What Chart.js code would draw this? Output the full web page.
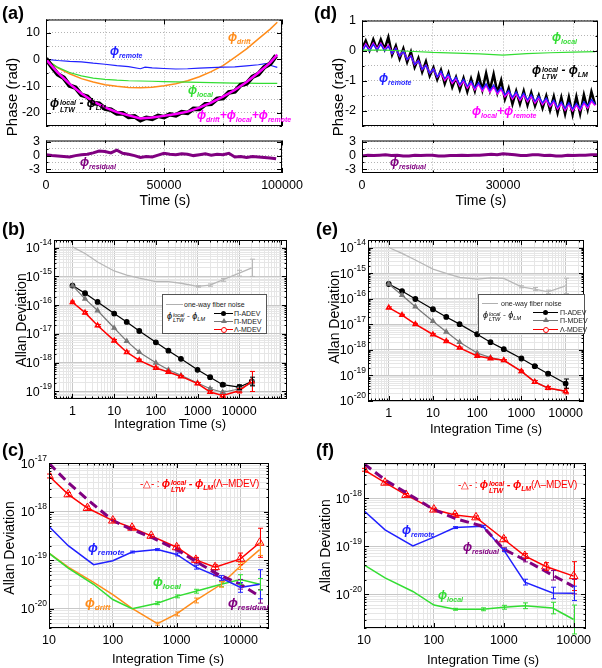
<!DOCTYPE html>
<html>
<head>
<meta charset="utf-8">
<title>Phase residuals and Allan deviation</title>
<script src="https://cdn.jsdelivr.net/npm/chart.js@4.4.1/dist/chart.umd.min.js"></script>
<style>
  html, body { margin: 0; padding: 0; background: #fff; }
  body { position: relative; width: 602px; height: 668px; overflow: hidden;
         font-family: "Liberation Sans", Arial, sans-serif; color: #000; }
  .pane { position: absolute; }
  .t { position: absolute; white-space: nowrap; line-height: 1; z-index: 2; }
  .letter { font-weight: bold; font-size: 18px; }
  .ytitle { transform: translate(-50%, -50%) rotate(-90deg); font-size: 14px; }
  .xtitle { transform: translate(-50%, -50%); font-size: 13px; }
  .phi { font-style: italic; font-weight: bold; font-size: 12px; }
  .phi sub { font-size: 7px; vertical-align: -3px; }
  .big { font-size: 13px; }
  .big sub { font-size: 8px; }
  .ss { display: inline-block; vertical-align: -5px; font-size: 7px; line-height: 7px; margin-left: 1px; }
  .ss span { display: block; }
  .key { color: #ff0000; font-size: 10px; letter-spacing: -0.2px; }
  .key .phi { font-size: 11px; }
  .lg { position: absolute; border: 1px solid #555; background: #fff; z-index: 2; }
  .lg .ln { position: absolute; height: 1px; }
  .lg .tx { position: absolute; font-size: 7px; line-height: 1; white-space: nowrap; color: #222; }
  .lg .mk { position: absolute; }
  .lg .lf { position: absolute; font-style: italic; font-size: 9px; line-height: 1; white-space: nowrap; }
  .lg .lf sub { font-size: 5.5px; vertical-align: -2px; }
  .lg .lf .ss { font-size: 5.5px; line-height: 5.5px; vertical-align: -3px; }
</style>
</head>
<body>

<div class="t letter" style="left:2px;top:4px">(a)</div>
<div class="t letter" style="left:314px;top:4px">(d)</div>
<div class="t letter" style="left:2px;top:220px">(b)</div>
<div class="t letter" style="left:316px;top:220px">(e)</div>
<div class="t letter" style="left:2px;top:441px">(c)</div>
<div class="t letter" style="left:316px;top:441px">(f)</div>

<div class="t ytitle" style="left:11px;top:97px;font-size:15px">Phase (rad)</div>
<div class="t ytitle" style="left:337px;top:97px;font-size:15px">Phase (rad)</div>
<div class="t ytitle" style="left:21px;top:320px">Allan Deviation</div>
<div class="t ytitle" style="left:334px;top:317px">Allan Deviation</div>
<div class="t ytitle" style="left:9px;top:548px">Allan Deviation</div>
<div class="t ytitle" style="left:325px;top:546px">Allan Deviation</div>

<div class="t xtitle" style="left:165px;top:200px;font-size:14px">Time (s)</div>
<div class="t xtitle" style="left:481px;top:200px;font-size:14px">Time (s)</div>
<div class="t xtitle" style="left:170px;top:423px">Integration Time (s)</div>
<div class="t xtitle" style="left:486px;top:428px">Integration Time (s)</div>
<div class="t xtitle" style="left:168px;top:658px">Integration Time (s)</div>
<div class="t xtitle" style="left:483px;top:659px">Integration Time (s)</div>

<!-- (a) labels -->
<div class="t phi" style="left:110px;top:45px;color:#2020ff">ϕ<sub>remote</sub></div>
<div class="t phi" style="left:228px;top:31px;color:#ff8c1a">ϕ<sub>drift</sub></div>
<div class="t phi" style="left:188px;top:84px;color:#33dd33">ϕ<sub>local</sub></div>
<div class="t phi" style="left:50px;top:97px">ϕ<span class="ss"><span>local</span><span>LTW</span></span> - ϕ<sub>LM</sub></div>
<div class="t phi" style="left:197px;top:109px;color:#ff00ff">ϕ<sub>drift</sub>+ϕ<sub>local</sub>+ϕ<sub>remote</sub></div>
<div class="t phi" style="left:80px;top:156px;color:#800080">ϕ<sub>residual</sub></div>

<!-- (d) labels -->
<div class="t phi" style="left:552px;top:31px;color:#33dd33">ϕ<sub>local</sub></div>
<div class="t phi" style="left:379px;top:72px;color:#2020ff">ϕ<sub>remote</sub></div>
<div class="t phi" style="left:532px;top:64px">ϕ<span class="ss"><span>local</span><span>LTW</span></span> - ϕ<sub>LM</sub></div>
<div class="t phi" style="left:472px;top:105px;color:#ff00ff">ϕ<sub>local</sub>+ϕ<sub>remote</sub></div>
<div class="t phi" style="left:390px;top:156px;color:#800080">ϕ<sub>residual</sub></div>

<!-- (c) labels -->
<div class="t key" style="left:140px;top:478px">-△- : <span class="phi">ϕ<span class="ss"><span>local</span><span>LTW</span></span> - ϕ<sub>LM</sub></span>(Λ–MDEV)</div>
<div class="t phi big" style="left:88px;top:541px;color:#2020ff">ϕ<sub>remote</sub></div>
<div class="t phi big" style="left:153px;top:575px;color:#33dd33">ϕ<sub>local</sub></div>
<div class="t phi big" style="left:85px;top:596px;color:#ff8c1a">ϕ<sub>drift</sub></div>
<div class="t phi big" style="left:228px;top:596px;color:#800080">ϕ<sub>residual</sub></div>

<!-- (f) labels -->
<div class="t key" style="left:458px;top:479px">-△- : <span class="phi">ϕ<span class="ss"><span>local</span><span>LTW</span></span> - ϕ<sub>LM</sub></span>(Λ–MDEV)</div>
<div class="t phi" style="left:402px;top:524px;color:#2020ff">ϕ<sub>remote</sub></div>
<div class="t phi" style="left:463px;top:541px;color:#800080">ϕ<sub>residual</sub></div>
<div class="t phi" style="left:438px;top:589px;color:#33dd33">ϕ<sub>local</sub></div>

<!-- legends (b), (e) -->
<div class="lg" style="left:162px;top:294px;width:103px;height:38px">
  <div class="ln" style="left:3px;top:9px;width:17px;background:#b0b0b0"></div>
  <div class="tx" style="left:21px;top:6px">one-way fiber noise</div>
  <div class="lf" style="left:4px;top:17px">ϕ<span class="ss"><span>local</span><span>LTW</span></span> - ϕ<sub>LM</sub></div>
  <div class="ln" style="left:51px;top:18px;width:19px;background:#000"></div>
  <div class="mk" style="left:58px;top:16px;width:5px;height:5px;border-radius:50%;background:#000"></div>
  <div class="tx" style="left:71px;top:15px">Π-ADEV</div>
  <div class="ln" style="left:51px;top:26px;width:19px;background:#777"></div>
  <div class="mk" style="left:58px;top:23px;width:0;height:0;border-left:3px solid transparent;border-right:3px solid transparent;border-bottom:5px solid #777"></div>
  <div class="tx" style="left:71px;top:23px">Π-MDEV</div>
  <div class="ln" style="left:51px;top:34px;width:19px;background:#ff0000"></div>
  <div class="mk" style="left:58px;top:31.5px;width:4px;height:4px;border-radius:50%;border:1px solid #ff0000;background:#fff"></div>
  <div class="tx" style="left:71px;top:31px">Λ-MDEV</div>
</div>
<div class="lg" style="left:478px;top:294px;width:105px;height:38px">
  <div class="ln" style="left:3px;top:8px;width:16px;background:#b0b0b0"></div>
  <div class="tx" style="left:22px;top:5px">one-way fiber noise</div>
  <div class="lf" style="left:4px;top:16px">ϕ<span class="ss"><span>local</span><span>LTW</span></span> - ϕ<sub>LM</sub></div>
  <div class="ln" style="left:54px;top:17px;width:25px;background:#000"></div>
  <div class="mk" style="left:64px;top:15px;width:5px;height:5px;border-radius:50%;background:#000"></div>
  <div class="tx" style="left:81px;top:14px">Π-ADEV</div>
  <div class="ln" style="left:54px;top:25px;width:25px;background:#777"></div>
  <div class="mk" style="left:64px;top:22px;width:0;height:0;border-left:3px solid transparent;border-right:3px solid transparent;border-bottom:5px solid #777"></div>
  <div class="tx" style="left:81px;top:22px">Π-MDEV</div>
  <div class="ln" style="left:54px;top:34px;width:25px;background:#ff0000"></div>
  <div class="mk" style="left:64px;top:31.5px;width:4px;height:4px;border-radius:50%;border:1px solid #ff0000;background:#fff"></div>
  <div class="tx" style="left:81px;top:31px">Λ-MDEV</div>
</div>

<script>
// ---------- (a) phase vs time, 100000 s run ----------
const tA5 = [0, 5000, 10000, 15000, 20000, 25000, 30000, 35000, 40000, 45000, 50000,
  55000, 60000, 65000, 70000, 75000, 80000, 85000, 90000, 95000, 98000];
const aSum = [0, -5.0, -9.2, -12.8, -15.8, -18.0, -19.8, -21.0, -22.2, -21.8, -21.2,
  -20.5, -19.6, -18.1, -16.2, -14.0, -11.5, -8.5, -5.0, -1.2, 1.8];
const aDrift = [0, -3.2, -5.4, -7.2, -8.5, -9.5, -10.1, -10.5, -10.6, -10.4, -9.9,
  -9.1, -8.0, -6.5, -4.6, -2.3, 0.8, 4.0, 7.7, 11.4, 14.0];
const aLocal = [0, -3.0, -4.9, -6.2, -7.0, -7.5, -7.8, -8.0, -8.1, -8.2, -8.3,
  -8.4, -8.5, -8.6, -8.7, -8.8, -8.9, -8.9, -9.0, -9.0, -9.0];
const tRemoteA = [0, 5000, 10000, 15000, 20000, 25000, 30000, 35000, 40000, 42000, 45000, 50000,
  55000, 60000, 65000, 70000, 75000, 80000, 85000, 90000, 93000, 95000, 98000];
const aRemote = [0, -0.4, -0.7, -0.9, -1.4, -1.8, -2.3, -2.7, -3.5, -2.9, -3.2, -3.4,
  -3.6, -3.5, -3.3, -3.1, -2.9, -2.8, -2.4, -2.0, -1.6, -2.2, -3.0];
const tA2 = [0, 2500, 5000, 7500, 10000, 12500, 15000, 17500, 20000, 22500, 25000, 27500,
  30000, 32500, 35000, 37500, 40000, 42500, 45000, 47500, 50000, 52500, 55000, 57500,
  60000, 62500, 65000, 67500, 70000, 72500, 75000, 77500, 80000, 82500, 85000, 87500,
  90000, 92500, 95000, 97500];
const aMeasured = [0.3, -2.8, -5.6, -6.9, -9.8, -10.6, -13.3, -14.0, -16.4, -16.6, -18.5, -18.9,
  -20.3, -20.2, -21.6, -21.4, -22.8, -21.9, -22.3, -21.2, -21.7, -20.6, -21.0, -19.8,
  -20.1, -18.5, -18.6, -16.8, -16.7, -14.8, -14.5, -12.4, -12.0, -9.6, -9.0, -6.5,
  -5.5, -2.9, -1.6, 1.4];
const aResidual = [0.2, 0.0, -0.1, -0.2, -0.3, 0.0, 0.2, 0.3, 0.6, 1.0, 0.9, 0.6,
  1.2, 0.5, 0.3, 0.0, -0.4, -0.2, -0.3, 0.1, 0.5, 0.3, 0.2, 0.4,
  0.3, 0.0, 0.2, 0.4, 0.1, 0.3, 0.2, 0.5, -0.3, -0.2, -0.4, -0.2,
  -0.3, -0.4, -0.5, -0.7];
const aXTicks = [0, 25000, 50000, 75000, 100000], aXLabels = [0, 50000, 100000];
const aYTicks = [-25, -20, -15, -10, -5, 0, 5, 10, 15], aYLabels = [-20, -10, 0, 10];
const resTicks = [-3, -1.5, 0, 1.5, 3], resLabels = [-3, 0, 3];

// ---------- (d) phase vs time, 50000 s run ----------
const tD = [0, 800, 1600, 2400, 3200, 4000, 4800, 5600, 6400, 7200, 8000, 8800, 9600, 10400,
  11200, 12000, 12800, 13600, 14400, 15200, 16000, 16800, 17600, 18400, 19200, 20000, 20800,
  21600, 22400, 23200, 24000, 24800, 25600, 26400, 27200, 28000, 28800, 29600, 30400, 31200,
  32000, 32800, 33600, 34400, 35200, 36000, 36800, 37600, 38400, 39200, 40000, 40800, 41600,
  42400, 43200, 44000, 44800, 45600, 46400, 47200, 48000, 48800, 49600];
const dMeasured = [0.06, 0.33, 0.01, 0.37, 0.04, 0.37, 0.05, 0.45, -0.14, 0.16, -0.27, 0.07, -0.38,
  -0.04, -0.55, -0.25, -0.71, -0.36, -0.84, -0.56, -0.96, -0.64, -1.10, -0.74, -1.21, -0.88, -1.30,
  -0.91, -1.36, -0.93, -1.34, -0.81, -1.31, -0.75, -1.31, -0.78, -1.40, -0.98, -1.61, -1.25,
  -1.77, -1.34, -1.77, -1.34, -1.81, -1.39, -1.83, -1.48, -1.91, -1.50, -1.98, -1.52, -2.06,
  -1.55, -2.10, -1.54, -2.12, -1.53, -2.10, -1.46, -1.96, -1.36, -1.80];
const dSum = [0.00, 0.21, 0.02, 0.24, 0.05, 0.24, 0.02, 0.17, -0.09, 0.07, -0.18, -0.02, -0.29,
  -0.18, -0.46, -0.34, -0.62, -0.49, -0.75, -0.61, -0.87, -0.73, -0.98, -0.83, -1.08, -0.93, -1.17,
  -1.00, -1.23, -1.06, -1.29, -1.11, -1.33, -1.15, -1.37, -1.19, -1.43, -1.28, -1.52, -1.37,
  -1.60, -1.42, -1.64, -1.46, -1.68, -1.51, -1.73, -1.56, -1.78, -1.62, -1.85, -1.69, -1.93,
  -1.75, -1.97, -1.78, -1.99, -1.80, -1.97, -1.74, -1.90, -1.67, -1.82];
const dRemote = [-0.03, 0.18, -0.01, 0.21, 0.02, 0.21, -0.01, 0.14, -0.09, 0.07, -0.18, -0.02, -0.29,
  -0.18, -0.46, -0.34, -0.62, -0.49, -0.75, -0.61, -0.87, -0.68, -0.93, -0.78, -1.03, -0.88, -1.12,
  -0.95, -1.18, -1.01, -1.24, -1.06, -1.28, -1.10, -1.32, -1.14, -1.38, -1.23, -1.47, -1.32,
  -1.55, -1.37, -1.59, -1.41, -1.63, -1.46, -1.68, -1.51, -1.73, -1.57, -1.80, -1.64, -1.88,
  -1.70, -1.92, -1.73, -1.94, -1.75, -1.92, -1.69, -1.85, -1.62, -1.77];
const tLocalD = [0, 5000, 10000, 15000, 20000, 25000, 30000, 35000, 40000, 45000, 49600];
const dLocal = [0.02, 0.02, -0.02, -0.06, -0.08, -0.11, -0.15, -0.10, -0.07, -0.05, -0.03];
const tD2 = [0, 1250, 2500, 3750, 5000, 6250, 7500, 8750, 10000, 11250, 12500, 13750, 15000,
  16250, 17500, 18750, 20000, 21250, 22500, 23750, 25000, 26250, 27500, 28750, 30000, 31250,
  32500, 33750, 35000, 36250, 37500, 38750, 40000, 41250, 42500, 43750, 45000, 46250, 47500,
  48750, 50000];
const dResidual = [-0.1, 0.1, 0.0, 0.1, 0.2, 0.0, 0.1, -0.1, -0.1, 0.1, 0.0, 0.1, 0.1,
  -0.1, -0.1, 0.0, 0.0, 0.1, 0.0, 0.1, 0.1, 0.2, 0.3, 0.2, 0.4, 0.3,
  0.2, 0.0, 0.0, 0.2, 0.2, 0.0, 0.1, -0.1, -0.1, 0.1, 0.0, 0.1, 0.1,
  0.2, 0.2];
const dXTicks = [0, 15000, 30000, 45000], dXLabels = [0, 30000];
const dYTicks = [-2.5, -2, -1.5, -1, -0.5, 0, 0.5, 1], dYLabels = [-2, -1, 0, 1];

// ---------- (b) Allan deviation, 100000 s run ----------
const tauB = [1, 2, 4, 10, 20, 40, 100, 200, 400, 1000, 2000, 4000, 10000, 20000];
const bFiber = [1.07e-14, 6.3e-15, 3.2e-15, 1.55e-15, 1.12e-15, 8.7e-16, 6.6e-16, 6.6e-16,
  5.8e-16, 4.5e-16, 5.0e-16, 7.6e-16, 1.3e-15, 2.0e-15];
const bFiberErr = [0, 0, 0, 0, 0, 0, 0, 0, 0, 0.03, 0.04, 0.05, 0.1, 0.3];
const bAdev = [4.8e-16, 2.6e-16, 1.3e-16, 5.1e-17, 2.6e-17, 1.26e-17, 5.1e-18, 2.6e-18,
  1.35e-18, 5.6e-19, 3.1e-19, 1.7e-19, 1.4e-19, 2.2e-19];
const bAdevErr = [0, 0, 0, 0, 0, 0, 0, 0, 0, 0, 0.03, 0.05, 0.08, 0.15];
const bMdev = [4.8e-16, 1.66e-16, 6.5e-17, 1.6e-17, 5.6e-18, 2.3e-18, 9.8e-19, 5.6e-19,
  3.6e-19, 1.95e-19, 1.23e-19, 9.3e-20, 1.2e-19, 1.95e-19];
const bMdevErr = [0, 0, 0, 0, 0, 0, 0, 0, 0, 0, 0.03, 0.04, 0.06, 0.1];
const bLmdev = [1.26e-16, 5.5e-17, 1.95e-17, 5.8e-18, 2.3e-18, 1.2e-18, 6.5e-19, 4.7e-19,
  3.3e-19, 1.86e-19, 9.5e-20, 7.1e-20, 1.05e-19, 2.2e-19];
const bLmdevErr = [0.04, 0.04, 0.04, 0.04, 0.04, 0.04, 0.03, 0.03, 0.03, 0.04, 0.05, 0.06, 0.08, 0.35];
const bXLabels = [1, 10, 100, 1000, 10000];

// ---------- (e) Allan deviation, 50000 s run ----------
const tauE = [1, 2, 4, 10, 20, 40, 100, 200, 400, 1000, 2000, 4000, 10000];
const eFiber = [1.02e-14, 6.0e-15, 3.3e-15, 1.45e-15, 9.8e-16, 6.9e-16, 5.9e-16, 6.6e-16,
  6.3e-16, 2.95e-16, 2.4e-16, 1.86e-16, 3.2e-16];
const eFiberErr = [0, 0, 0, 0, 0, 0, 0, 0, 0, 0.04, 0.06, 0.07, 0.3];
const eAdev = [3.8e-16, 2.0e-16, 9.8e-17, 3.9e-17, 1.95e-17, 1.02e-17, 4.1e-18, 2.0e-18,
  1.07e-18, 4.6e-19, 2.3e-19, 1.17e-19, 4.8e-20];
const eAdevErr = [0, 0, 0, 0, 0, 0, 0, 0, 0, 0, 0.03, 0.05, 0.18];
const eMdev = [3.8e-16, 1.38e-16, 4.9e-17, 1.32e-17, 5.1e-18, 2.0e-18, 7.6e-19, 5.0e-19,
  3.9e-19, 1.45e-19, 5.6e-20, 3.2e-20, 2.4e-20];
const eLmdev = [4.5e-17, 2.3e-17, 1.02e-17, 4.0e-18, 2.2e-18, 1.2e-18, 5.8e-19, 4.6e-19,
  3.9e-19, 1.45e-19, 5.6e-20, 3.2e-20, 2.4e-20];
const eLmdevErr = [0.03, 0.03, 0.03, 0.03, 0.03, 0.03, 0.03, 0.03, 0.03, 0.04, 0.05, 0.06, 0.1];

// ---------- (c) contributions, 100000 s run ----------
const tauCR = [10, 20, 40, 100, 200, 400, 1000, 2000, 4000, 10000, 20000];
const cLmdev = [5.5e-18, 2.3e-18, 1.2e-18, 6.6e-19, 4.7e-19, 3.2e-19, 1.86e-19, 1.02e-19,
  7.2e-20, 1.07e-19, 2.3e-19];
const cLmdevErr = [0.04, 0.04, 0.04, 0.03, 0.03, 0.03, 0.04, 0.05, 0.05, 0.12, 0.3];
const cResidual = [1.0e-17, 4.0e-18, 1.8e-18, 6.6e-19, 4.3e-19, 3.0e-19, 1.66e-19, 9.5e-20,
  5.5e-20, 3.2e-20, 1.8e-20];
const cResidualErr = [0, 0, 0, 0, 0, 0, 0.03, 0.05, 0.06, 0.1, 0.14];
const tauC = [10, 20, 50, 100, 200, 500, 1000, 2000, 5000, 10000, 20000];
const cRemote = [5.0e-19, 2.0e-19, 8.1e-20, 9.8e-20, 1.48e-19, 1.66e-19, 1.32e-19, 7.2e-20,
  4.3e-20, 2.75e-20, 3.2e-20];
const cRemoteErr = [0, 0, 0, 0, 0.02, 0.02, 0.03, 0.04, 0.05, 0.1, 0.3];
const cLocal = [1.4e-19, 6.9e-20, 3.2e-20, 1.55e-20, 1.0e-20, 1.3e-20, 1.8e-20, 2.3e-20,
  3.2e-20, 4.0e-20, 3.2e-20];
const cLocalErr = [0, 0, 0, 0, 0, 0.03, 0.03, 0.04, 0.05, 0.1, 0.12];
const cDrift = [1.4e-19, 7.2e-20, 3.5e-20, 1.95e-20, 1.02e-20, 4.9e-21, 7.8e-21, 1.48e-20,
  3.2e-20, 7.6e-20, 1.66e-19];
const cDriftErr = [0, 0, 0, 0, 0, 0.03, 0.04, 0.05, 0.06, 0.07, 0.12];
const cXLabels = [10, 100, 1000, 10000];

// ---------- (f) contributions, 50000 s run ----------
const tauFR = [10, 20, 40, 100, 200, 400, 1000, 2000, 4000, 10000];
const fLmdev = [3.9e-18, 2.1e-18, 1.17e-18, 5.8e-19, 4.5e-19, 4.0e-19, 1.4e-19, 6.3e-20,
  3.8e-20, 2.4e-20];
const fLmdevErr = [0.03, 0.03, 0.03, 0.03, 0.03, 0.03, 0.04, 0.05, 0.08, 0.3];
const tauF = [10, 20, 50, 100, 200, 500, 1000, 2000, 5000, 10000];
const fResidual = [5.2e-18, 2.4e-18, 1.07e-18, 5.8e-19, 3.8e-19, 2.6e-19, 8.7e-20, 5.2e-20,
  2.5e-20, 1.45e-20];
const fResidualErr = [0, 0, 0, 0, 0, 0, 0.03, 0.04, 0.1, 0.15];
const fRemote = [5.5e-19, 2.2e-19, 1.02e-19, 1.55e-19, 2.45e-19, 2.6e-19, 8.3e-20, 1.8e-20,
  1.07e-20, 1.05e-20];
const fRemoteErr = [0, 0, 0, 0, 0.02, 0.02, 0.03, 0.06, 0.12, 0.15];
const fLocal = [4.1e-20, 2.2e-20, 1.15e-20, 6.0e-21, 4.9e-21, 4.9e-21, 5.4e-21, 5.8e-21,
  5.2e-21, 3.0e-21];
const fLocalErr = [0, 0, 0, 0, 0.02, 0.03, 0.04, 0.06, 0.12, 0.3];

// ---------- colours ----------
const BLUE = '#2020ff', ORANGE = '#ff8c1a', GREEN = '#33dd33', MAGENTA = '#ff00ff',
  PURPLE = '#800080', RED = '#ff0000', GRAY = '#777777', LIGHT = '#b8b8b8';

const FAM = '"Liberation Sans", Arial, sans-serif';
Chart.defaults.font.family = FAM;
Chart.defaults.color = '#000';
Chart.defaults.animation = false;
Chart.defaults.events = [];
Chart.defaults.plugins.legend.display = false;
Chart.defaults.plugins.tooltip.enabled = false;
Chart.defaults.elements.point.radius = 0;
Chart.defaults.elements.line.tension = 0;
Chart.defaults.elements.line.borderWidth = 1.5;

// plot rectangles in page pixels
const R = {
  aMain: { L: 46, T: 14, R: 282, B: 126 }, aRes: { L: 46, T: 135, R: 282, B: 173 },
  dMain: { L: 362, T: 15, R: 598, B: 126 }, dRes: { L: 362, T: 135, R: 598, B: 173 },
  b: { L: 54, T: 240, R: 287, B: 399 }, e: { L: 368, T: 240, R: 584, B: 401 },
  c: { L: 49, T: 463, R: 269, B: 628 }, f: { L: 364, T: 463, R: 586, B: 628 }
};
// y-axis box width and x-axis box height (labels are clipped to these boxes)
const AX_W = 46, AX_H = 24;
const PAD = { left: 0, top: 8, right: 26, bottom: 0 };

function mount(r) {
  const box = document.createElement('div');
  box.className = 'pane';
  box.style.left = (r.L - AX_W) + 'px';
  box.style.top = (r.T - PAD.top) + 'px';
  box.style.width = (r.R - r.L + AX_W + PAD.right) + 'px';
  box.style.height = (r.B - r.T + PAD.top + AX_H) + 'px';
  const cv = document.createElement('canvas');
  box.appendChild(cv);
  document.body.appendChild(box);
  return cv;
}

const pts = (xs, ys) => xs.map((x, i) => ({ x, y: ys[i] }));

function logTicks(min, max) {
  const out = [];
  for (let e = Math.floor(Math.log10(min)); e <= Math.ceil(Math.log10(max)); e++) {
    for (let m = 1; m < 10; m++) {
      const v = m * Math.pow(10, e);
      if (v >= min * 0.999 && v <= max * 1.001) out.push({ value: v, major: m === 1 });
    }
  }
  return out;
}

function fitBox(horiz) {
  return s => { if (horiz) s.height = AX_H; else s.width = AX_W; };
}

function linAxis(pos, min, max, ticks, labels, show) {
  const horiz = pos === 'bottom';
  return {
    type: 'linear', position: pos, min, max, bounds: 'data',
    afterBuildTicks: s => { s.ticks = ticks.map(v => ({ value: v, major: labels.includes(v) })); },
    afterFit: fitBox(horiz),
    grid: { color: '#b4b4b4', drawTicks: false },
    border: { display: false, dash: [1, 2] },
    ticks: {
      display: show, autoSkip: false, maxRotation: 0, minRotation: 0,
      padding: horiz ? 5 : 6, font: { size: 12.5 },
      callback: v => labels.includes(v) ? String(v) : ''
    }
  };
}

function logAxis(pos, min, max, labels) {
  const horiz = pos === 'bottom';
  return {
    type: 'logarithmic', position: pos, min, max, bounds: 'data',
    afterBuildTicks: s => { s.ticks = logTicks(min, max); },
    afterFit: fitBox(horiz),
    grid: { color: c => (c.tick && c.tick.major) ? '#c8c8c8' : '#e6e6e6', drawTicks: false },
    border: { display: false },
    ticks: {
      display: horiz, autoSkip: false, maxRotation: 0, minRotation: 0, padding: 5,
      font: { size: 12.5 },
      callback: v => labels.some(l => Math.abs(l - v) < l * 1e-6) ? String(v) : ''
    }
  };
}

// frame, inward ticks, 10^n labels
const framePlugin = {
  id: 'frame',
  afterDraw(chart) {
    const { ctx, chartArea: a } = chart;
    ctx.save();
    ctx.strokeStyle = '#000';
    ctx.lineWidth = 1;
    ctx.setLineDash([]);
    ctx.strokeRect(a.left + 0.5, a.top + 0.5, a.right - a.left - 1, a.bottom - a.top - 1);
    Object.values(chart.scales).forEach(s => {
      s.ticks.forEach(t => {
        const len = t.major ? 5 : 2.5;
        const p = Math.round(s.getPixelForValue(t.value)) + 0.5;
        ctx.beginPath();
        if (s.isHorizontal()) {
          ctx.moveTo(p, a.bottom); ctx.lineTo(p, a.bottom - len);
          ctx.moveTo(p, a.top); ctx.lineTo(p, a.top + len);
        } else {
          ctx.moveTo(a.left, p); ctx.lineTo(a.left + len, p);
          ctx.moveTo(a.right, p); ctx.lineTo(a.right - len, p);
        }
        ctx.stroke();
      });
    });
    const ys = chart.scales.y;
    if (ys.type === 'logarithmic') {
      ctx.fillStyle = '#000';
      ctx.textAlign = 'right';
      ctx.textBaseline = 'middle';
      ys.ticks.forEach(t => {
        if (!t.major) return;
        const y = ys.getPixelForValue(t.value);
        const exp = String(Math.round(Math.log10(t.value)));
        ctx.font = '8.5px ' + FAM;
        const ew = ctx.measureText(exp).width;
        ctx.fillText(exp, a.left - 2, y - 5);
        ctx.font = '12.5px ' + FAM;
        ctx.fillText('10', a.left - 2 - ew, y + 1);
      });
    }
    ctx.restore();
  }
};

// vertical error bars, half-width given in decades
const errPlugin = {
  id: 'errs',
  afterDatasetsDraw(chart) {
    const { ctx } = chart;
    const ys = chart.scales.y;
    chart.data.datasets.forEach((ds, i) => {
      if (!ds.errs) return;
      const meta = chart.getDatasetMeta(i);
      ctx.save();
      ctx.strokeStyle = ds.borderColor;
      ctx.lineWidth = 1;
      ctx.setLineDash([]);
      meta.data.forEach((el, j) => {
        const e = ds.errs[j];
        if (!e) return;
        const v = ds.data[j].y;
        const y1 = ys.getPixelForValue(v * Math.pow(10, e));
        const y2 = ys.getPixelForValue(v / Math.pow(10, e));
        const x = Math.round(el.x) + 0.5;
        ctx.beginPath();
        ctx.moveTo(x, y1); ctx.lineTo(x, y2);
        ctx.moveTo(x - 2.5, y1); ctx.lineTo(x + 2.5, y1);
        ctx.moveTo(x - 2.5, y2); ctx.lineTo(x + 2.5, y2);
        ctx.stroke();
      });
      ctx.restore();
    });
  }
};
Chart.register(framePlugin, errPlugin);

function draw(rect, datasets, x, y) {
  return new Chart(mount(rect), {
    type: 'line',
    data: { datasets },
    options: {
      responsive: true, maintainAspectRatio: false, devicePixelRatio: 1,
      layout: { padding: PAD },
      scales: { x, y }
    }
  });
}

// (a)
draw(R.aMain, [
  { data: pts(tA5, aSum), borderColor: MAGENTA, borderWidth: 2.5 },
  { data: pts(tA2, aMeasured), borderColor: '#000', borderWidth: 4.5 },
  { data: pts(tRemoteA, aRemote), borderColor: BLUE, borderWidth: 1.2 },
  { data: pts(tA5, aLocal), borderColor: GREEN, borderWidth: 1.2 },
  { data: pts(tA5, aDrift), borderColor: ORANGE, borderWidth: 1.5 }
], linAxis('bottom', 0, 100000, aXTicks, aXLabels, false),
   linAxis('left', -25, 15, aYTicks, aYLabels, true));

draw(R.aRes, [
  { data: pts(tA2, aResidual), borderColor: PURPLE, borderWidth: 3 }
], linAxis('bottom', 0, 100000, aXTicks, aXLabels, true),
   linAxis('left', -3.8, 3.3, resTicks, resLabels, true));

// (d)
draw(R.dMain, [
  { data: pts(tLocalD, dLocal), borderColor: GREEN, borderWidth: 1.2 },
  { data: pts(tD, dRemote), borderColor: BLUE, borderWidth: 1.3 },
  { data: pts(tD, dSum), borderColor: MAGENTA, borderWidth: 1.8 },
  { data: pts(tD, dMeasured), borderColor: '#000', borderWidth: 2.5 }
], linAxis('bottom', 0, 50200, dXTicks, dXLabels, false),
   linAxis('left', -2.5, 1, dYTicks, dYLabels, true));

draw(R.dRes, [
  { data: pts(tD2, dResidual), borderColor: PURPLE, borderWidth: 3 }
], linAxis('bottom', 0, 50200, dXTicks, dXLabels, true),
   linAxis('left', -3.8, 3.3, resTicks, resLabels, true));

// (b)
draw(R.b, [
  { data: pts(tauB, bLmdev), errs: bLmdevErr, borderColor: RED, borderWidth: 1.5,
    pointStyle: 'triangle', pointRadius: 2.5, pointBorderColor: RED, pointBackgroundColor: '#fff' },
  { data: pts(tauB, bMdev), errs: bMdevErr, borderColor: GRAY, borderWidth: 1.2,
    pointStyle: 'triangle', pointRadius: 2.5, pointBackgroundColor: GRAY, pointBorderColor: GRAY },
  { data: pts(tauB, bAdev), errs: bAdevErr, borderColor: '#000', borderWidth: 1.2,
    pointStyle: 'circle', pointRadius: 2.3, pointBackgroundColor: '#000', pointBorderColor: '#000' },
  { data: pts(tauB, bFiber), errs: bFiberErr, borderColor: LIGHT, borderWidth: 1.3 }
], logAxis('bottom', 0.36, 1.4e5, bXLabels), logAxis('left', 5.4e-20, 1.86e-14, []));

// (e)
draw(R.e, [
  { data: pts(tauE, eLmdev), errs: eLmdevErr, borderColor: RED, borderWidth: 1.5,
    pointStyle: 'triangle', pointRadius: 2.5, pointBorderColor: RED, pointBackgroundColor: '#fff' },
  { data: pts(tauE, eMdev), borderColor: GRAY, borderWidth: 1.2,
    pointStyle: 'triangle', pointRadius: 2.5, pointBackgroundColor: GRAY, pointBorderColor: GRAY },
  { data: pts(tauE, eAdev), errs: eAdevErr, borderColor: '#000', borderWidth: 1.2,
    pointStyle: 'circle', pointRadius: 2.3, pointBackgroundColor: '#000', pointBorderColor: '#000' },
  { data: pts(tauE, eFiber), errs: eFiberErr, borderColor: LIGHT, borderWidth: 1.3 }
], logAxis('bottom', 0.34, 2.6e4, bXLabels), logAxis('left', 1e-20, 2e-14, []));

// (c)
draw(R.c, [
  { data: pts(tauCR, cResidual), errs: cResidualErr, borderColor: PURPLE, borderWidth: 3,
    borderDash: [9, 5] },
  { data: pts(tauCR, cLmdev), errs: cLmdevErr, borderColor: RED, borderWidth: 1.5,
    pointStyle: 'triangle', pointRadius: 5, pointBorderColor: RED, pointBorderWidth: 1,
    pointBackgroundColor: 'rgba(255,255,255,0)' },
  { data: pts(tauC, cRemote), errs: cRemoteErr, borderColor: BLUE, borderWidth: 1.5 },
  { data: pts(tauC, cLocal), errs: cLocalErr, borderColor: GREEN, borderWidth: 1.5 },
  { data: pts(tauC, cDrift), errs: cDriftErr, borderColor: ORANGE, borderWidth: 1.5 }
], logAxis('bottom', 10, 2.8e4, cXLabels), logAxis('left', 4e-21, 1.02e-17, []));

// (f)
draw(R.f, [
  { data: pts(tauF, fResidual), errs: fResidualErr, borderColor: PURPLE, borderWidth: 3,
    borderDash: [9, 5] },
  { data: pts(tauFR, fLmdev), errs: fLmdevErr, borderColor: RED, borderWidth: 1.5,
    pointStyle: 'triangle', pointRadius: 5, pointBorderColor: RED, pointBorderWidth: 1,
    pointBackgroundColor: 'rgba(255,255,255,0)' },
  { data: pts(tauF, fRemote), errs: fRemoteErr, borderColor: BLUE, borderWidth: 1.5 },
  { data: pts(tauF, fLocal), errs: fLocalErr, borderColor: GREEN, borderWidth: 1.5 }
], logAxis('bottom', 10, 1.5e4, cXLabels), logAxis('left', 2.0e-21, 5.4e-18, []));
</script>
</body>
</html>
